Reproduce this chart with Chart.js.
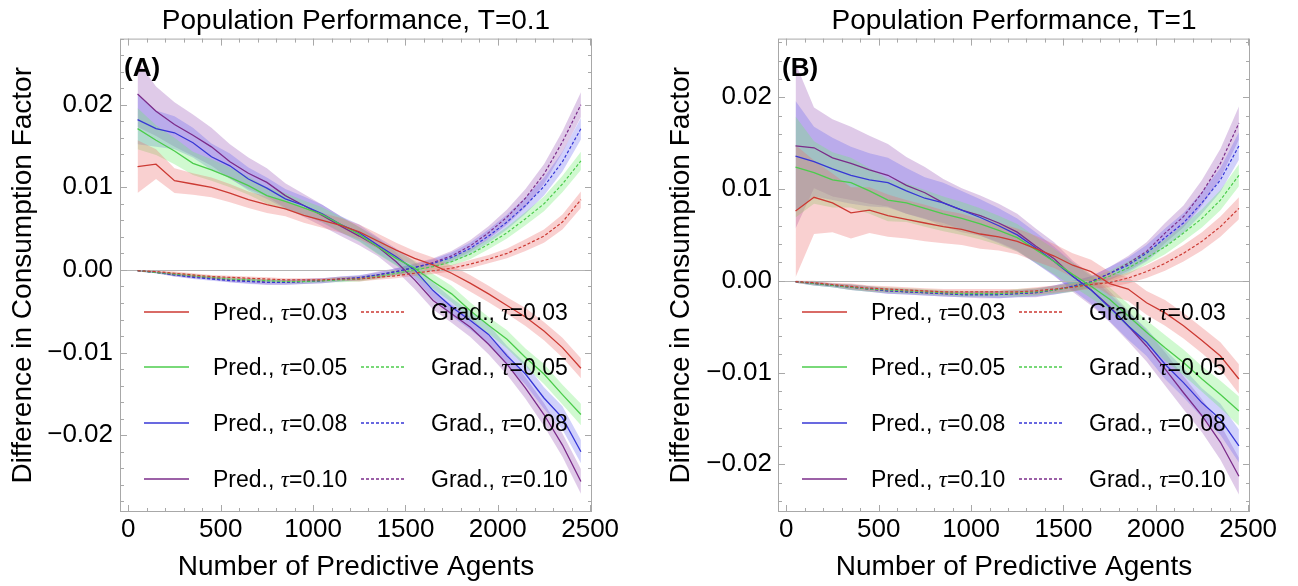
<!DOCTYPE html>
<html>
<head>
<meta charset="utf-8">
<script src="https://cdn.jsdelivr.net/npm/chart.js@4.4.1/dist/chart.umd.min.js"></script>
<style>
  html, body { margin: 0; padding: 0; background: #fff; overflow: hidden; }
  .panel { position: absolute; top: 0; height: 586px; }
  #panelA { left: 0; width: 649px; }
  #panelB { left: 650px; width: 648px; }
  .tag { position: absolute; font: bold 26px "Liberation Sans", Arial, sans-serif; line-height: 30px; color: #000; }
  .leg { position: absolute; font: 23px "Liberation Sans", Arial, sans-serif; line-height: 28px; white-space: nowrap; color: #000; }
  .leg i { font-family: "Liberation Serif", serif; }
  .swatch { position: absolute; }
</style>
</head>
<body>
<div id="panelA" class="panel"><canvas id="chartA" width="649" height="586"></canvas></div>
<div id="panelB" class="panel"><canvas id="chartB" width="648" height="586"></canvas></div>
<script>
// number of predictive agents (x values of every series)
const agents = [50, 150, 250, 350, 450, 550, 650, 750, 850, 950, 1050, 1150, 1250,
  1350, 1450, 1550, 1650, 1750, 1850, 1950, 2050, 2150, 2250, 2350, 2450];
const tauLabels = ["0.03", "0.05", "0.08", "0.10"];
const xTickValues = [0, 500, 1000, 1500, 2000, 2500];
const yTickValues = [-0.02, -0.01, 0, 0.01, 0.02];
const yTickLabels = ["\u22120.02", "\u22120.01", "0.00", "0.01", "0.02"];

// panel A, T=0.1 : predictive agents
const predA03 = [0.0125, 0.0128, 0.0108, 0.0104, 0.0100, 0.0093, 0.0085, 0.0079, 0.0074, 0.0066, 0.0060, 0.0054, 0.0046, 0.0035, 0.0024, 0.0014, 0.0006, -0.0004, -0.0016, -0.0029, -0.0043, -0.0057, -0.0074, -0.0094, -0.0119];
const predA05 = [0.0171, 0.0157, 0.0144, 0.0129, 0.0121, 0.0112, 0.0102, 0.0090, 0.0083, 0.0075, 0.0067, 0.0055, 0.0043, 0.0028, 0.0014, 0.0002, -0.0014, -0.0029, -0.0049, -0.0067, -0.0084, -0.0106, -0.0126, -0.0151, -0.0175];
const predA08 = [0.0182, 0.0171, 0.0166, 0.0154, 0.0137, 0.0126, 0.0110, 0.0099, 0.0086, 0.0078, 0.0068, 0.0055, 0.0045, 0.0030, 0.0016, 0.0000, -0.0025, -0.0045, -0.0061, -0.0078, -0.0104, -0.0126, -0.0155, -0.0179, -0.0220];
const predA10 = [0.0213, 0.0192, 0.0176, 0.0163, 0.0149, 0.0131, 0.0117, 0.0106, 0.0090, 0.0078, 0.0066, 0.0053, 0.0041, 0.0028, 0.0010, -0.0012, -0.0037, -0.0053, -0.0069, -0.0090, -0.0114, -0.0143, -0.0175, -0.0212, -0.0256];
const predErrA03 = [0.0032, 0.0018, 0.0015, 0.0013, 0.0012, 0.0011, 0.0010, 0.0010, 0.0009, 0.0009, 0.0009, 0.0009, 0.0009, 0.0009, 0.0009, 0.0009, 0.0009, 0.0009, 0.0010, 0.0010, 0.0010, 0.0011, 0.0011, 0.0012, 0.0012];
const predErrA05 = [0.0025, 0.0018, 0.0016, 0.0014, 0.0013, 0.0012, 0.0011, 0.0010, 0.0010, 0.0009, 0.0009, 0.0009, 0.0009, 0.0009, 0.0009, 0.0009, 0.0009, 0.0010, 0.0010, 0.0010, 0.0011, 0.0011, 0.0012, 0.0012, 0.0013];
const predErrA08 = [0.0030, 0.0022, 0.0020, 0.0018, 0.0016, 0.0015, 0.0014, 0.0013, 0.0012, 0.0011, 0.0011, 0.0010, 0.0010, 0.0010, 0.0010, 0.0010, 0.0010, 0.0011, 0.0011, 0.0012, 0.0012, 0.0013, 0.0013, 0.0014, 0.0014];
const predErrA10 = [0.0040, 0.0030, 0.0027, 0.0025, 0.0023, 0.0021, 0.0019, 0.0017, 0.0015, 0.0014, 0.0013, 0.0012, 0.0011, 0.0011, 0.0011, 0.0011, 0.0011, 0.0011, 0.0012, 0.0012, 0.0013, 0.0013, 0.0014, 0.0014, 0.0015];

// panel A : gradient agents
const gradA03 = [-0.0001, -0.0002, -0.0004, -0.0006, -0.0008, -0.0009, -0.0010, -0.0011, -0.0012, -0.0012, -0.0012, -0.0011, -0.0011, -0.0009, -0.0007, -0.0004, -0.0001, 0.0002, 0.0007, 0.0013, 0.0020, 0.0030, 0.0041, 0.0058, 0.0085];
const gradA05 = [-0.0001, -0.0003, -0.0005, -0.0007, -0.0009, -0.0011, -0.0012, -0.0013, -0.0014, -0.0014, -0.0013, -0.0012, -0.0011, -0.0008, -0.0004, 0.0000, 0.0004, 0.0010, 0.0019, 0.0031, 0.0045, 0.0062, 0.0080, 0.0104, 0.0132];
const gradA08 = [-0.0001, -0.0003, -0.0006, -0.0009, -0.0011, -0.0013, -0.0014, -0.0015, -0.0015, -0.0014, -0.0013, -0.0011, -0.0009, -0.0006, -0.0002, 0.0003, 0.0008, 0.0015, 0.0026, 0.0041, 0.0058, 0.0078, 0.0101, 0.0131, 0.0171];
const gradA10 = [-0.0001, -0.0003, -0.0006, -0.0008, -0.0010, -0.0012, -0.0013, -0.0015, -0.0015, -0.0014, -0.0013, -0.0011, -0.0010, -0.0006, -0.0002, 0.0003, 0.0009, 0.0017, 0.0029, 0.0045, 0.0064, 0.0087, 0.0116, 0.0155, 0.0200];
const gradErrA03 = [0.0001, 0.0001, 0.0002, 0.0002, 0.0002, 0.0002, 0.0002, 0.0002, 0.0002, 0.0002, 0.0002, 0.0002, 0.0003, 0.0003, 0.0003, 0.0003, 0.0004, 0.0004, 0.0005, 0.0005, 0.0006, 0.0007, 0.0008, 0.0009, 0.0010];
const gradErrA05 = [0.0001, 0.0001, 0.0002, 0.0002, 0.0002, 0.0002, 0.0002, 0.0002, 0.0002, 0.0002, 0.0002, 0.0003, 0.0003, 0.0003, 0.0003, 0.0004, 0.0004, 0.0005, 0.0006, 0.0006, 0.0007, 0.0008, 0.0009, 0.0010, 0.0011];
const gradErrA08 = [0.0001, 0.0001, 0.0002, 0.0002, 0.0002, 0.0002, 0.0003, 0.0003, 0.0003, 0.0003, 0.0003, 0.0003, 0.0003, 0.0003, 0.0004, 0.0004, 0.0005, 0.0006, 0.0007, 0.0008, 0.0009, 0.0010, 0.0011, 0.0012, 0.0013];
const gradErrA10 = [0.0001, 0.0001, 0.0002, 0.0002, 0.0002, 0.0003, 0.0003, 0.0003, 0.0003, 0.0003, 0.0003, 0.0003, 0.0003, 0.0004, 0.0004, 0.0005, 0.0005, 0.0006, 0.0007, 0.0008, 0.0009, 0.0011, 0.0012, 0.0013, 0.0015];

// panel B, T=1 : predictive agents
const predB03 = [0.0076, 0.0091, 0.0085, 0.0074, 0.0077, 0.0071, 0.0067, 0.0063, 0.0059, 0.0056, 0.0051, 0.0048, 0.0043, 0.0035, 0.0027, 0.0017, 0.0010, -0.0003, -0.0009, -0.0024, -0.0035, -0.0049, -0.0065, -0.0082, -0.0107];
const predB05 = [0.0124, 0.0118, 0.0110, 0.0107, 0.0098, 0.0088, 0.0085, 0.0079, 0.0073, 0.0068, 0.0062, 0.0055, 0.0047, 0.0034, 0.0021, 0.0007, -0.0006, -0.0020, -0.0038, -0.0056, -0.0073, -0.0089, -0.0107, -0.0124, -0.0142];
const predB08 = [0.0136, 0.0130, 0.0122, 0.0115, 0.0110, 0.0107, 0.0098, 0.0090, 0.0085, 0.0077, 0.0069, 0.0060, 0.0050, 0.0036, 0.0021, 0.0005, -0.0010, -0.0029, -0.0049, -0.0067, -0.0091, -0.0111, -0.0133, -0.0151, -0.0180];
const predB10 = [0.0147, 0.0145, 0.0134, 0.0128, 0.0121, 0.0115, 0.0104, 0.0096, 0.0085, 0.0077, 0.0071, 0.0063, 0.0053, 0.0038, 0.0024, 0.0005, -0.0010, -0.0028, -0.0049, -0.0071, -0.0096, -0.0122, -0.0147, -0.0176, -0.0213];
const predErrB03 = [0.0072, 0.0040, 0.0032, 0.0028, 0.0025, 0.0023, 0.0021, 0.0020, 0.0018, 0.0017, 0.0016, 0.0015, 0.0014, 0.0014, 0.0013, 0.0013, 0.0013, 0.0013, 0.0013, 0.0013, 0.0014, 0.0014, 0.0014, 0.0015, 0.0016];
const predErrB05 = [0.0055, 0.0034, 0.0030, 0.0027, 0.0025, 0.0023, 0.0021, 0.0020, 0.0019, 0.0018, 0.0017, 0.0016, 0.0015, 0.0014, 0.0014, 0.0013, 0.0013, 0.0013, 0.0013, 0.0013, 0.0014, 0.0014, 0.0014, 0.0015, 0.0016];
const predErrB08 = [0.0060, 0.0038, 0.0034, 0.0031, 0.0029, 0.0027, 0.0025, 0.0023, 0.0022, 0.0021, 0.0020, 0.0019, 0.0018, 0.0017, 0.0016, 0.0015, 0.0015, 0.0015, 0.0015, 0.0015, 0.0016, 0.0016, 0.0016, 0.0017, 0.0018];
const predErrB10 = [0.0090, 0.0044, 0.0042, 0.0040, 0.0037, 0.0034, 0.0031, 0.0028, 0.0026, 0.0024, 0.0022, 0.0021, 0.0020, 0.0019, 0.0018, 0.0017, 0.0017, 0.0017, 0.0017, 0.0017, 0.0018, 0.0018, 0.0018, 0.0019, 0.0020];

// panel B : gradient agents
const gradB03 = [-0.0001, -0.0002, -0.0004, -0.0006, -0.0008, -0.0009, -0.0010, -0.0011, -0.0012, -0.0012, -0.0012, -0.0012, -0.0012, -0.0011, -0.0009, -0.0007, -0.0004, -0.0002, 0.0003, 0.0010, 0.0019, 0.0030, 0.0043, 0.0059, 0.0079];
const gradB05 = [-0.0001, -0.0003, -0.0005, -0.0007, -0.0009, -0.0010, -0.0011, -0.0012, -0.0013, -0.0014, -0.0014, -0.0014, -0.0013, -0.0012, -0.0010, -0.0007, -0.0002, 0.0005, 0.0014, 0.0025, 0.0037, 0.0052, 0.0068, 0.0088, 0.0115];
const gradB08 = [-0.0001, -0.0003, -0.0005, -0.0007, -0.0009, -0.0011, -0.0012, -0.0013, -0.0014, -0.0015, -0.0015, -0.0015, -0.0014, -0.0013, -0.0010, -0.0006, -0.0001, 0.0008, 0.0017, 0.0030, 0.0047, 0.0063, 0.0085, 0.0110, 0.0147];
const gradB10 = [-0.0001, -0.0003, -0.0005, -0.0007, -0.0009, -0.0011, -0.0012, -0.0013, -0.0014, -0.0015, -0.0015, -0.0015, -0.0014, -0.0013, -0.0010, -0.0006, -0.0001, 0.0008, 0.0019, 0.0032, 0.0052, 0.0070, 0.0096, 0.0128, 0.0172];
const gradErrB03 = [0.0001, 0.0002, 0.0002, 0.0003, 0.0003, 0.0003, 0.0003, 0.0003, 0.0003, 0.0003, 0.0003, 0.0003, 0.0003, 0.0004, 0.0004, 0.0004, 0.0005, 0.0005, 0.0006, 0.0007, 0.0008, 0.0009, 0.0010, 0.0011, 0.0012];
const gradErrB05 = [0.0001, 0.0002, 0.0002, 0.0003, 0.0003, 0.0003, 0.0003, 0.0003, 0.0003, 0.0003, 0.0003, 0.0003, 0.0004, 0.0004, 0.0004, 0.0005, 0.0005, 0.0006, 0.0007, 0.0007, 0.0008, 0.0009, 0.0010, 0.0011, 0.0012];
const gradErrB08 = [0.0001, 0.0002, 0.0002, 0.0003, 0.0003, 0.0003, 0.0003, 0.0003, 0.0003, 0.0003, 0.0003, 0.0004, 0.0004, 0.0004, 0.0005, 0.0005, 0.0006, 0.0007, 0.0008, 0.0009, 0.0010, 0.0011, 0.0012, 0.0013, 0.0015];
const gradErrB10 = [0.0001, 0.0002, 0.0002, 0.0003, 0.0003, 0.0003, 0.0003, 0.0003, 0.0003, 0.0003, 0.0004, 0.0004, 0.0004, 0.0005, 0.0005, 0.0006, 0.0006, 0.0007, 0.0008, 0.0010, 0.0011, 0.0012, 0.0014, 0.0016, 0.0018];

const lineColors = ["#cc3a33", "#4ccc4c", "#3737d6", "#7b2c8a"];
const bandColors = ["rgba(235,110,110,0.32)", "rgba(110,235,110,0.32)", "rgba(90,90,240,0.28)", "rgba(150,80,180,0.30)"];

Chart.defaults.font.family = "'Liberation Sans', Arial, sans-serif";
Chart.defaults.color = "#000";

const toPoints = (vals, errs, sign) =>
  agents.map((x, i) => ({ x, y: vals[i] + sign * errs[i] }));

const bandPair = (vals, errs, i) => [
  { data: toPoints(vals, errs, 1), fill: "+1", backgroundColor: bandColors[i], borderWidth: 0, order: 2 },
  { data: toPoints(vals, errs, -1), fill: false, borderWidth: 0, order: 2 },
];

const buildDatasets = (pred, predErr, grad, gradErr) => {
  const sets = [];
  for (let i = 0; i < pred.length; i++) {
    sets.push(...bandPair(pred[i], predErr[i], i), ...bandPair(grad[i], gradErr[i], i));
  }
  for (let i = 0; i < pred.length; i++) {
    sets.push({ data: toPoints(pred[i], predErr[i], 0), borderColor: lineColors[i], borderWidth: 1.3, fill: false, order: 0 });
    sets.push({ data: toPoints(grad[i], gradErr[i], 0), borderColor: lineColors[i], borderWidth: 1.2, borderDash: [3, 2], fill: false, order: 0 });
  }
  return sets;
};

// Mathematica style frame: zero axis plus inward ticks on all four sides
const framePlugin = {
  id: "frame",
  beforeDatasetsDraw(chart) {
    const { ctx, chartArea: a, scales: { y } } = chart;
    const py = Math.round(y.getPixelForValue(0)) + 0.5;
    ctx.save();
    ctx.strokeStyle = "#b4b4b4";
    ctx.lineWidth = 1;
    ctx.beginPath();
    ctx.moveTo(a.left, py);
    ctx.lineTo(a.right, py);
    ctx.stroke();
    ctx.restore();
  },
  afterDraw(chart) {
    const { ctx, chartArea: a, scales: { x, y } } = chart;
    ctx.save();
    ctx.strokeStyle = "#a8a8a8";
    ctx.lineWidth = 1;
    ctx.strokeRect(a.left + 0.5, a.top + 0.5, a.width - 1, a.height - 1);
    ctx.beginPath();
    for (let v = 0; v <= 2500; v += 100) {
      const px = Math.round(x.getPixelForValue(v)) + 0.5;
      const len = v % 500 === 0 ? 7 : 4;
      ctx.moveTo(px, a.bottom); ctx.lineTo(px, a.bottom - len);
      ctx.moveTo(px, a.top); ctx.lineTo(px, a.top + len);
    }
    for (let k = -15; k <= 15; k++) {
      const v = k * 0.002;
      if (v < y.min || v > y.max) continue;
      const py = Math.round(y.getPixelForValue(v)) + 0.5;
      const len = k % 5 === 0 ? 7 : 4;
      ctx.moveTo(a.left, py); ctx.lineTo(a.left + len, py);
      ctx.moveTo(a.right, py); ctx.lineTo(a.right - len, py);
    }
    ctx.stroke();
    ctx.restore();
  },
};

const makeChart = (id, cfg) => new Chart(document.getElementById(id), {
  type: "line",
  data: { datasets: buildDatasets(cfg.pred, cfg.predErr, cfg.grad, cfg.gradErr) },
  options: {
    responsive: false,
    animation: false,
    devicePixelRatio: 1,
    layout: { padding: { left: 0, right: cfg.rightPad, top: 0, bottom: 0 } },
    elements: { point: { radius: 0 }, line: { tension: 0 } },
    plugins: {
      legend: { display: false },
      tooltip: { enabled: false },
      filler: { drawTime: "beforeDatasetsDraw" },
      title: {
        display: true,
        text: cfg.title,
        fullSize: false,
        font: { size: 28, weight: "normal" },
        color: "#000",
        padding: { top: 4, bottom: 1 },
      },
    },
    scales: {
      x: {
        type: "linear",
        min: -45,
        max: 2510,
        grid: { display: false, drawTicks: false },
        border: { display: false },
        afterBuildTicks: (s) => { s.ticks = xTickValues.map((value) => ({ value })); },
        afterFit: (s) => { s.height = 74; },
        ticks: { autoSkip: false, maxRotation: 0, padding: 2, font: { size: 26 }, callback: (v) => String(v) },
        title: { display: true, text: "Number of Predictive Agents", font: { size: 28 }, padding: { top: 0, bottom: 2 } },
      },
      y: {
        min: cfg.yMin,
        max: cfg.yMax,
        grid: { display: false, drawTicks: false },
        border: { display: false },
        afterBuildTicks: (s) => { s.ticks = yTickValues.map((value) => ({ value })); },
        afterFit: (s) => { s.width = cfg.yWidth; },
        ticks: { padding: cfg.yTickPad, font: { size: 26 }, callback: (v, i) => yTickLabels[i] },
        title: { display: true, text: "Difference in Consumption Factor", font: { size: 28 }, padding: { top: cfg.yTitlePad, bottom: 0 } },
      },
    },
  },
  plugins: [framePlugin],
});

// legend rows inside the plot, offsets from the frame's top-left corner
const legendRows = [273, 328, 384, 440];
const addLegend = (panelId, chart, tag) => {
  const panel = document.getElementById(panelId);
  const a = chart.chartArea;
  const t = document.createElement("div");
  t.className = "tag";
  t.style.left = (a.left + 4) + "px";
  t.style.top = (a.top + 13) + "px";
  t.textContent = tag;
  panel.appendChild(t);
  const swatch = (left, top, color, dashed) => {
    const s = document.createElementNS("http://www.w3.org/2000/svg", "svg");
    s.setAttribute("class", "swatch");
    s.setAttribute("width", "45");
    s.setAttribute("height", "4");
    s.style.left = left + "px";
    s.style.top = (top - 2) + "px";
    s.innerHTML = `<line x1="0" y1="2" x2="45" y2="2" stroke="${color}" stroke-width="1.3"${dashed ? ' stroke-dasharray="3 2"' : ""}/>`;
    panel.appendChild(s);
  };
  const label = (left, top, kind, tau) => {
    const d = document.createElement("div");
    d.className = "leg";
    d.style.left = left + "px";
    d.style.top = (top - 14) + "px";
    d.innerHTML = `${kind}, <i>\u03c4</i>=${tau}`;
    panel.appendChild(d);
  };
  tauLabels.forEach((tau, i) => {
    const y = a.top + legendRows[i];
    swatch(a.left + 24, y, lineColors[i], false);
    label(a.left + 93, y, "Pred.", tau);
    swatch(a.left + 241, y, lineColors[i], true);
    label(a.left + 311, y, "Grad.", tau);
  });
};

const chartA = makeChart("chartA", {
  title: "Population Performance, T=0.1",
  pred: [predA03, predA05, predA08, predA10],
  predErr: [predErrA03, predErrA05, predErrA08, predErrA10],
  grad: [gradA03, gradA05, gradA08, gradA10],
  gradErr: [gradErrA03, gradErrA05, gradErrA08, gradErrA10],
  yMin: -0.0293, yMax: 0.0280,
  yWidth: 120, yTickPad: 7, yTitlePad: 6, rightPad: 57,
});
const chartB = makeChart("chartB", {
  title: "Population Performance, T=1",
  pred: [predB03, predB05, predB08, predB10],
  predErr: [predErrB03, predErrB05, predErrB08, predErrB10],
  grad: [gradB03, gradB05, gradB08, gradB10],
  gradErr: [gradErrB03, gradErrB05, gradErrB08, gradErrB10],
  yMin: -0.0252, yMax: 0.0264,
  yWidth: 128, yTickPad: 6, yTitlePad: 14, rightPad: 48,
});

addLegend("panelA", chartA, "(A)");
addLegend("panelB", chartB, "(B)");
</script>
</body>
</html>
